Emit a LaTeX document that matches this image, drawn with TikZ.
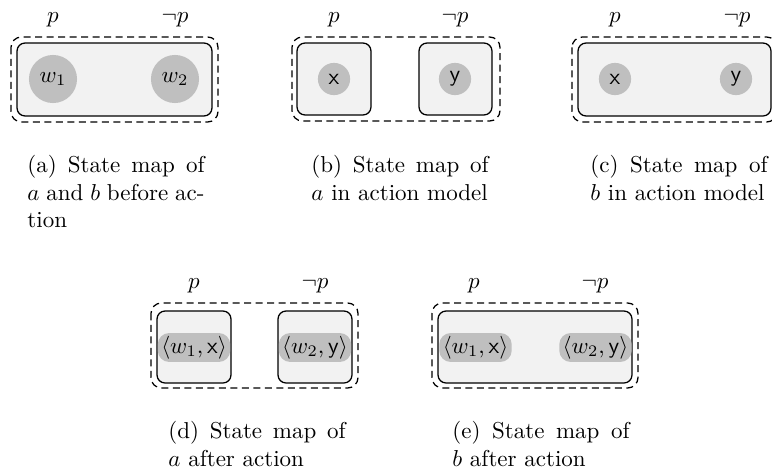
\documentclass[tikz,border=0pt]{standalone}
\usepackage{amsmath}
\usepackage{amssymb}
\usepackage{tikz}

\begin{document}
\begin{tikzpicture}[x=0.4348pt,y=-0.4348pt,
  outerbox/.style={draw,line width=0.55pt,dash pattern=on 3pt off 2pt,rounded corners=4.5pt},
  innerbox/.style={draw,line width=0.55pt,fill=black!5,rounded corners=3.5pt},
  world/.style={circle,fill=black!25,inner sep=0pt,minimum size=20.9pt},
  event/.style={circle,fill=black!25,inner sep=0pt,minimum size=14pt},
  pair/.style={rectangle,rounded corners=5pt,fill=black!25,inner sep=0pt,minimum width=31.5pt,minimum height=12.6pt},
  lbl/.style={anchor=base,inner sep=0pt},
  subcap/.style={anchor=north west,inner sep=0pt,text width=77pt,align=justify}]
  \useasboundingbox (0,0) rectangle (772,469);

  % (a) before action
  \draw[outerbox] (11,37) rectangle (218,122);
  \draw[innerbox] (17,43) rectangle (212,116);
  \node[world] (w1a) at (53,79) {$w_1$};
  \node[world] (w2a) at (175,79) {$w_2$};
  \node[lbl] (pa) at (53,22) {$p$};
  \node[lbl] (npa) at (175,22) {$\neg p$};
  \node[subcap] (capa) at (27,155) {(a) State map of\linebreak $a$ and $b$ before ac-\linebreak tion};

  % (b) action model, agent a
  \draw[outerbox] (292,37) rectangle (500,121);
  \draw[innerbox] (297,43) rectangle (371,115);
  \draw[innerbox] (419,43) rectangle (492,115);
  \node[event] (xb) at (334,79) {$\mathsf{x}$};
  \node[event] (yb) at (455,79) {$\mathsf{y}$};
  \node[lbl] (pb) at (334,22) {$p$};
  \node[lbl] (npb) at (455,22) {$\neg p$};
  \node[subcap] (capb) at (311,155) {(b) State map of\linebreak $a$ in action model};

  % (c) action model, agent b
  \draw[outerbox] (572,37) rectangle (777,122);
  \draw[innerbox] (578,43) rectangle (771,116);
  \node[event] (xc) at (615,79) {$\mathsf{x}$};
  \node[event] (yc) at (736,79) {$\mathsf{y}$};
  \node[lbl] (pc) at (615,22) {$p$};
  \node[lbl] (npc) at (737,22) {$\neg p$};
  \node[subcap] (capc) at (590,155) {(c) State map of\linebreak $b$ in action model};

  % (d) after action, agent a
  \draw[outerbox] (151,303) rectangle (358,388);
  \draw[innerbox] (157,311) rectangle (231,383);
  \draw[innerbox] (278,311) rectangle (352,383);
  \node[pair] (w1xd) at (194,347.5) {$\langle w_1,\mathsf{x}\rangle$};
  \node[pair] (w2yd) at (315,347.5) {$\langle w_2,\mathsf{y}\rangle$};
  \node[lbl] (pd) at (194,288) {$p$};
  \node[lbl] (npd) at (315,288) {$\neg p$};
  \node[subcap] (capd) at (168,421) {(d) State map of\linebreak $a$ after action};

  % (e) after action, agent b
  \draw[outerbox] (432,303) rectangle (638,388);
  \draw[innerbox] (438,311) rectangle (632,383);
  \node[pair] (w1xe) at (475.5,347.5) {$\langle w_1,\mathsf{x}\rangle$};
  \node[pair] (w2ye) at (595.5,347.5) {$\langle w_2,\mathsf{y}\rangle$};
  \node[lbl] (pe) at (474,288) {$p$};
  \node[lbl] (npe) at (595,288) {$\neg p$};
  \node[subcap] (cape) at (452,421) {(e) State map of\linebreak $b$ after action};
\end{tikzpicture}
\end{document}
